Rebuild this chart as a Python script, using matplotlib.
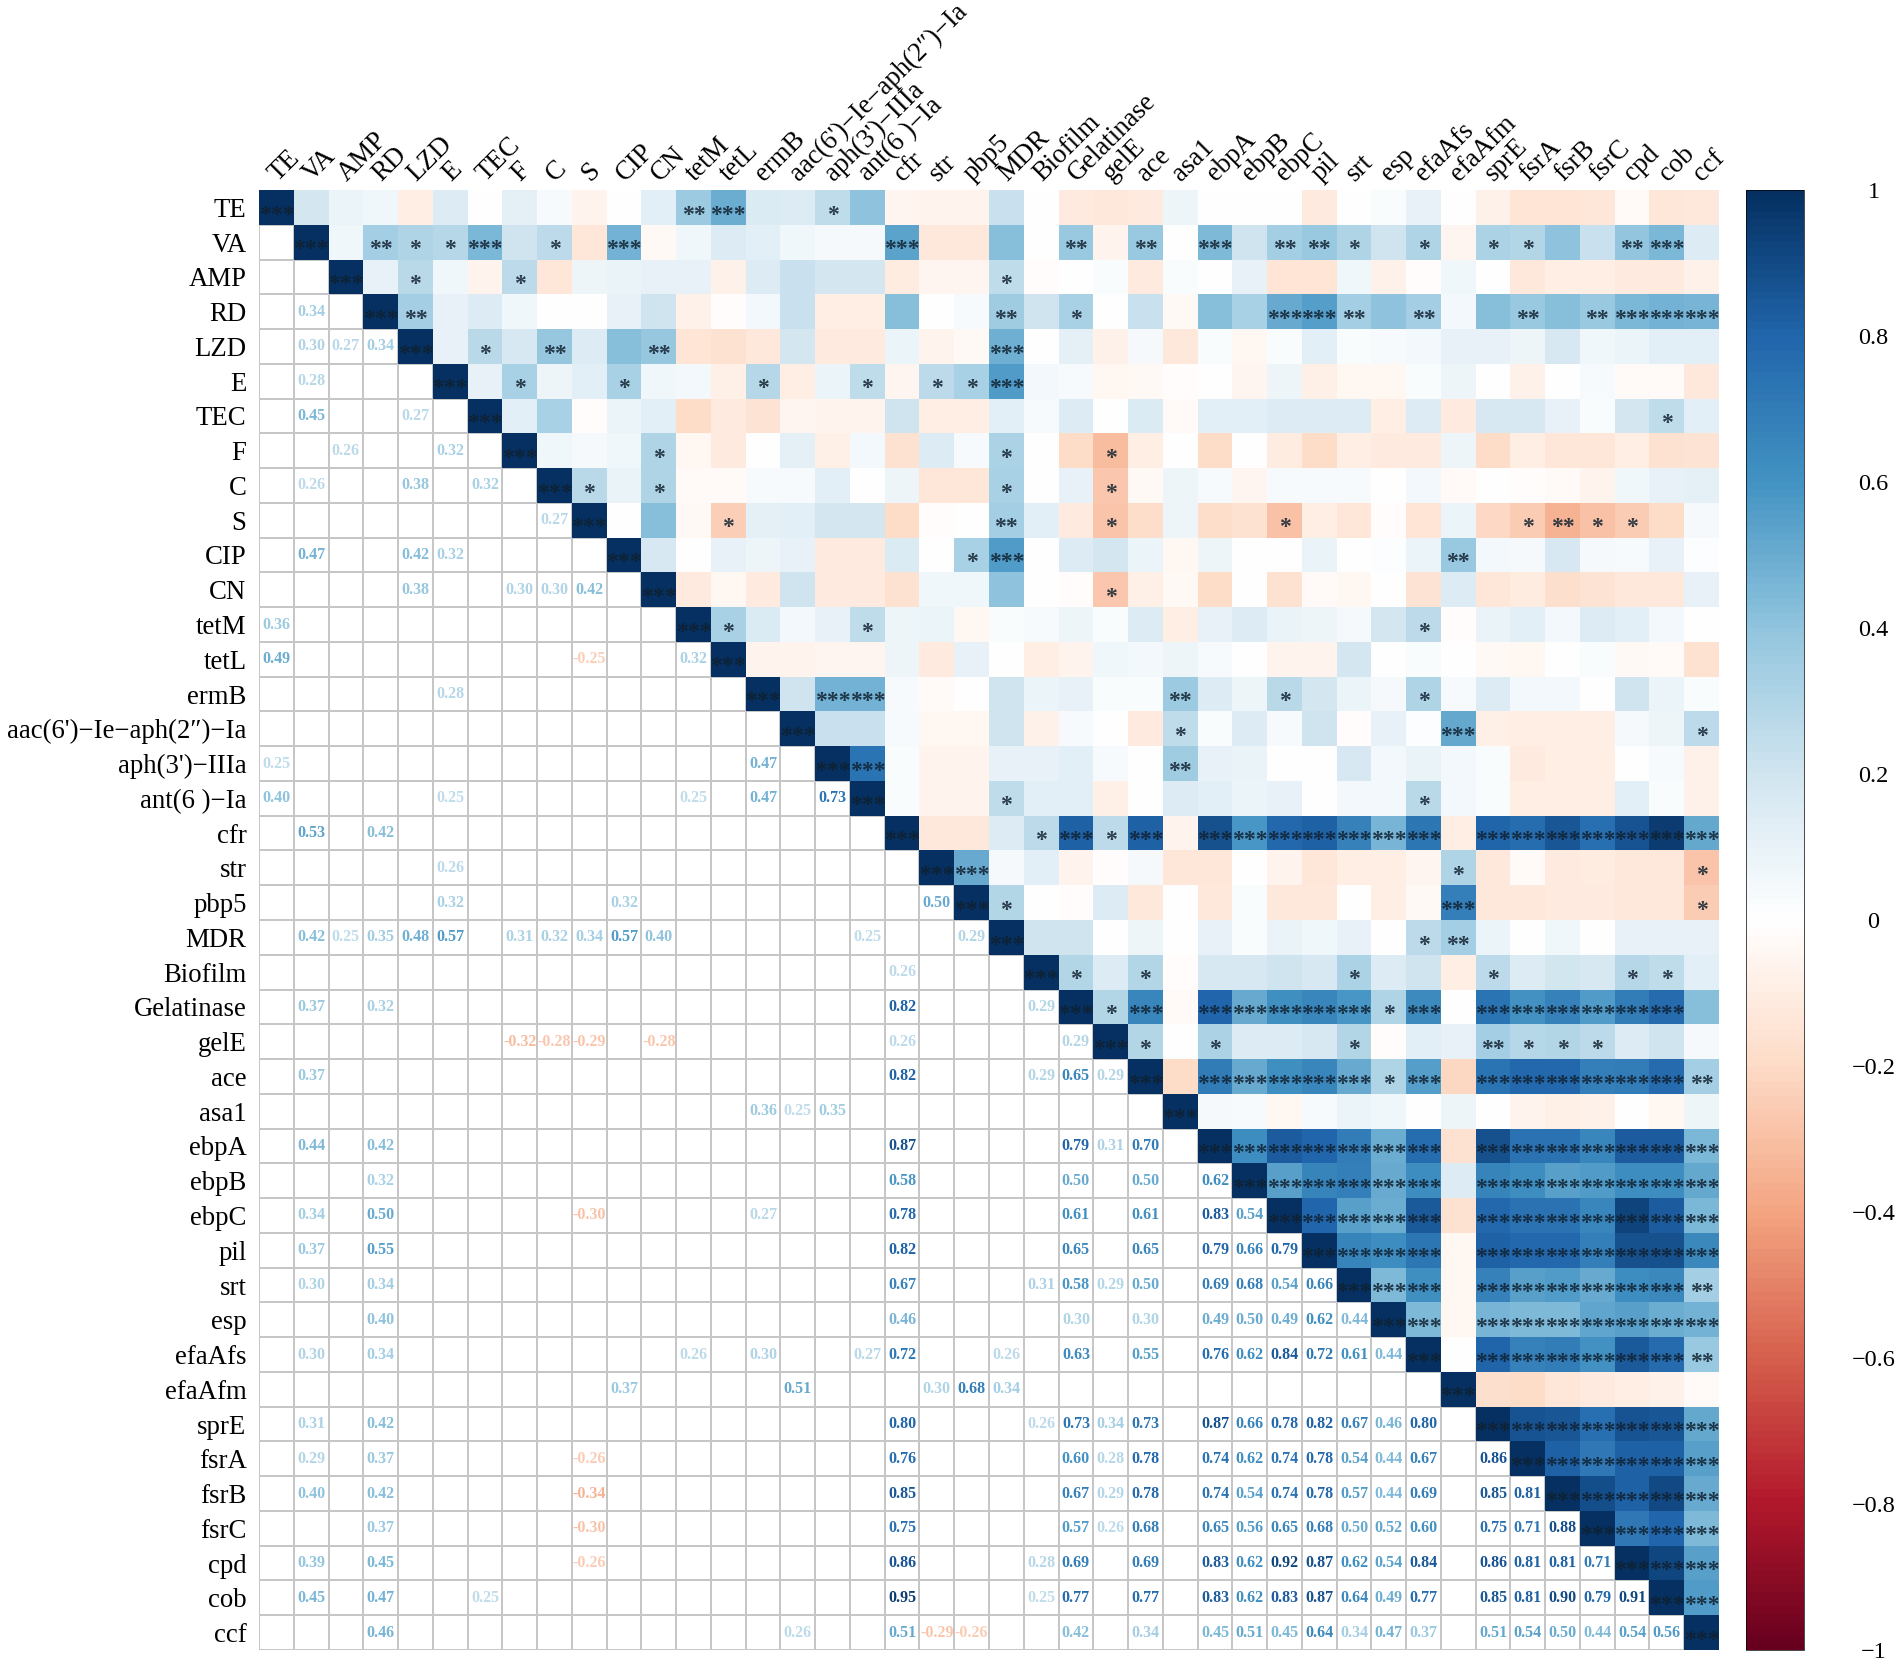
import numpy as np
import matplotlib
matplotlib.use('Agg')
import matplotlib.pyplot as plt
from matplotlib.colors import ListedColormap, LinearSegmentedColormap
from matplotlib.transforms import ScaledTranslation

plt.rcParams['font.family'] = ['Liberation Serif', 'DejaVu Serif']

names = ['TE', 'VA', 'AMP', 'RD', 'LZD', 'E', 'TEC', 'F', 'C', 'S', 'CIP', 'CN', 'tetM', 'tetL', 'ermB',
         'aac(6\')\u2212Ie\u2212aph(2\u2033)\u2212Ia', 'aph(3\')\u2212IIIa', 'ant(6 )\u2212Ia', 'cfr', 'str', 'pbp5',
         'MDR', 'Biofilm', 'Gelatinase', 'gelE', 'ace', 'asa1', 'ebpA', 'ebpB', 'ebpC', 'pil', 'srt', 'esp',
         'efaAfs', 'efaAfm', 'sprE', 'fsrA', 'fsrB', 'fsrC', 'cpd', 'cob', 'ccf']

# upper triangle, each row starts right of the diagonal
upper = [
    [.18, .08, .06, -.1, .15, 0, .11, .03, -.07, 0, .12, .36, .49, .16, .15, .25, .40, -.06, -.07, -.07, .22, 0, -.12, -.13, -.12, .07, 0, 0, 0, -.12, 0, .02, .1, 0, -.08, -.15, -.15, -.14, -.03, -.14, -.13],
    [.06, .34, .30, .28, .45, .2, .26, -.14, .47, -.04, .06, .14, .13, .06, .04, .04, .53, -.13, -.13, .42, 0, .37, -.07, .37, 0, .44, .2, .34, .37, .30, .2, .30, -.06, .31, .29, .40, .22, .39, .45, .14],
    [.1, .27, .06, -.07, .26, -.14, .07, .09, .1, .1, -.08, .14, .22, .18, .18, -.11, -.06, -.06, .25, -.02, 0, .02, -.12, .02, 0, .1, -.15, -.15, .06, -.08, -.02, .06, 0, -.13, -.1, -.1, -.12, -.12, -.08],
    [.34, .1, .14, .06, 0, 0, .1, .2, -.08, -.02, .05, .22, -.1, -.1, .42, 0, .03, .35, .2, .32, 0, .22, -.04, .42, .32, .50, .55, .34, .40, .34, .05, .42, .37, .42, .37, .45, .47, .46],
    [.1, .27, .17, .38, .15, .42, .38, -.15, -.17, -.13, .18, -.12, -.12, .08, -.07, -.04, .48, 0, .11, -.08, .04, -.13, .02, -.05, .02, .12, .02, .03, .05, .1, .1, .07, .17, .06, .08, .13, .13],
    [.1, .32, .07, .12, .32, .06, .05, -.09, .28, -.1, .08, .25, -.06, .26, .32, .57, .05, .03, -.05, -.04, -.02, 0, -.06, .07, -.09, -.05, -.05, .02, .07, 0, -.08, 0, .03, -.03, -.03, -.13],
    [.12, .32, -.02, .08, .12, -.2, -.12, -.16, -.06, -.07, -.07, .2, -.1, -.1, .13, .03, .14, 0, .16, -.03, .13, .13, .15, .15, .15, -.1, .14, -.12, .17, .17, .1, .02, .18, .25, .13],
    [.06, .04, .06, .30, -.05, -.12, 0, .11, -.09, .05, -.17, .15, .03, .31, 0, -.2, -.32, -.1, 0, -.2, 0, -.11, -.2, -.1, -.12, -.12, .07, -.2, -.1, -.14, -.14, -.1, -.17, -.16],
    [.27, .09, .30, -.03, -.03, .03, .03, .13, 0, .07, -.14, -.14, .32, 0, .1, -.28, -.04, .07, .03, -.06, .03, .03, .03, -.01, .05, -.03, -.01, -.02, -.03, -.07, .06, .1, .11],
    [0, .42, -.04, -.25, .11, .12, .18, .18, -.2, -.02, -.01, .34, .12, -.12, -.29, -.19, .07, -.19, -.17, -.3, -.1, -.14, -.02, -.15, .08, -.21, -.26, -.34, -.3, -.26, -.2, .04],
    [.17, 0, .1, .07, .1, -.12, -.12, .16, 0, .32, .57, 0, .14, .18, .08, -.05, .07, 0, 0, .09, 0, .01, .08, .37, .05, .04, .17, .04, .03, .1, .01],
    [-.12, -.05, -.12, .2, -.12, -.12, -.17, .06, .06, .40, 0, -.02, -.28, -.09, -.04, -.2, 0, -.17, -.03, -.05, -.01, -.16, .14, -.14, -.11, -.18, -.16, -.13, -.13, .1],
    [.32, .16, .05, .1, .25, .07, .08, -.05, .02, .03, .07, .02, .15, -.1, .1, .15, .09, .07, .04, .18, .26, -.02, .09, .12, .05, .15, .12, .05, 0],
    [-.07, -.07, -.06, -.06, .07, -.12, .1, 0, -.1, -.07, .06, .05, .07, .03, 0, -.07, -.07, .18, 0, .02, 0, -.04, -.05, 0, .02, -.04, -.03, -.17],
    [.2, .47, .47, .03, -.03, 0, .2, .08, .1, .02, .02, .36, .15, .07, .27, .18, .08, .04, .30, .03, .15, .05, .05, 0, .2, .08, .02],
    [.22, .22, .03, -.05, -.05, .2, -.08, .03, 0, -.12, .25, .02, .15, .03, .2, -.02, .1, .01, .51, -.09, -.1, -.1, -.1, .04, .07, .26],
    [.73, .02, -.07, -.07, .1, .1, .13, .03, 0, .35, .1, .09, 0, 0, .17, .05, .09, .05, .02, -.12, -.1, -.1, 0, .03, -.08],
    [.02, -.07, -.07, .25, .12, .13, -.09, 0, .14, .12, .08, .1, 0, .05, .05, .27, .05, .02, -.1, -.1, -.1, .13, .02, -.08],
    [-.13, -.13, .14, .26, .82, .26, .82, -.07, .87, .58, .78, .82, .67, .46, .72, -.1, .80, .76, .85, .75, .86, .95, .51],
    [.50, .04, .13, -.07, -.02, .04, -.14, -.14, 0, -.07, -.14, -.1, -.1, -.06, .30, -.13, -.03, -.12, -.11, -.13, -.13, -.29],
    [.29, 0, -.02, .15, -.13, 0, -.13, .02, -.13, -.13, 0, -.1, -.04, .68, -.13, -.13, -.12, -.12, -.13, -.13, -.26],
    [.2, .2, -.01, .07, -.01, .1, .02, .09, .06, .1, 0, .26, .34, .08, -.01, .06, 0, .1, .1, .1],
    [.29, .14, .29, -.02, .17, .17, .2, .17, .31, .15, .2, -.1, .26, .14, .19, .17, .28, .25, .12],
    [.29, .65, -.03, .79, .50, .61, .65, .58, .30, .63, 0, .73, .60, .67, .57, .69, .77, .42],
    [.29, 0, .31, .14, .14, .17, .29, -.02, .13, .1, .34, .28, .29, .26, .14, .2, .04],
    [-.2, .70, .50, .61, .65, .50, .30, .55, -.22, .73, .78, .78, .68, .69, .77, .34],
    [.04, .03, -.05, .03, .08, .06, 0, .07, 0, -.07, -.09, -.08, 0, -.05, .07],
    [.62, .83, .79, .69, .49, .76, -.17, .87, .74, .74, .65, .83, .83, .45],
    [.54, .66, .68, .50, .62, .14, .66, .62, .54, .56, .62, .62, .51],
    [.79, .54, .49, .84, -.17, .78, .74, .74, .65, .92, .83, .45],
    [.66, .62, .72, -.05, .82, .78, .78, .68, .87, .87, .64],
    [.44, .61, -.05, .67, .54, .57, .50, .62, .64, .34],
    [.44, -.05, .46, .44, .44, .52, .54, .49, .47],
    [0, .80, .67, .69, .60, .84, .77, .37],
    [-.18, -.2, -.14, -.12, -.1, -.08, -.03],
    [.86, .85, .75, .86, .85, .51],
    [.81, .71, .81, .81, .54],
    [.88, .81, .90, .50],
    [.71, .79, .44],
    [.91, .54],
    [.56],
]

# significance stars in the upper triangle: row -> columns
one_star = {0: [16], 1: [4, 5, 8, 31, 33, 35, 36], 2: [4, 7, 21], 3: [23], 4: [6], 5: [7, 10, 14, 17, 19, 20],
            6: [40], 7: [11, 21, 24], 8: [9, 11, 21, 24], 9: [13, 24, 29, 36, 38, 39], 10: [20], 11: [24],
            12: [13, 17, 33], 14: [29, 33], 15: [26, 41], 17: [21, 33], 18: [22, 24], 19: [34, 41], 20: [21, 41],
            21: [33], 22: [23, 25, 31, 35, 39, 40], 23: [24, 32], 24: [25, 27, 31, 36, 37, 38], 25: [32]}
two_stars = {0: [12], 1: [3, 23, 25, 29, 30, 39], 3: [4, 21, 31, 33, 36, 38], 4: [8, 11], 9: [21, 37], 10: [34],
             14: [26], 16: [26], 21: [34], 24: [35], 25: [41], 31: [41], 33: [41]}
three_stars = {0: [13], 1: [6, 10, 18, 27, 40], 3: [29, 30, 39, 40, 41], 4: [21], 5: [21], 10: [21], 14: [16, 17],
               15: [34], 16: [17], 18: [23, 25, 27, 28, 29, 30, 31, 32, 33, 35, 36, 37, 38, 39, 40, 41],
               19: [20], 20: [34], 23: [25, 27, 28, 29, 30, 31, 33, 35, 36, 37, 38, 39, 40],
               25: [27, 28, 29, 30, 31, 33, 35, 36, 37, 38, 39, 40],
               27: [28, 29, 30, 31, 32, 33, 35, 36, 37, 38, 39, 40, 41],
               28: [29, 30, 31, 32, 33, 35, 36, 37, 38, 39, 40, 41],
               29: [30, 31, 32, 33, 35, 36, 37, 38, 39, 40, 41],
               30: [31, 32, 33, 35, 36, 37, 38, 39, 40, 41],
               31: [32, 33, 35, 36, 37, 38, 39, 40],
               32: [33, 35, 36, 37, 38, 39, 40, 41],
               33: [35, 36, 37, 38, 39, 40],
               35: [36, 37, 38, 39, 40, 41], 36: [37, 38, 39, 40, 41], 37: [38, 39, 40, 41],
               38: [39, 40, 41], 39: [40, 41], 40: [41]}

bar_ticks = [-1, -0.8, -0.6, -0.4, -0.2, 0, 0.2, 0.4, 0.6, 0.8, 1]
min_label = 0.25

n = len(names)
corr = np.eye(n)
for i in range(n - 1):
    corr[i, i + 1:] = upper[i]
    corr[i + 1:, i] = upper[i]

W, H = 1901, 1669
fig = plt.figure(figsize=(W / 100, H / 100), dpi=100)
ax = fig.add_axes([259 / W, 1 - 1650 / H, 1460 / W, 1460 / H])
# same stops as RdBu but with a white centre
cmap = LinearSegmentedColormap.from_list('rdbu_white', ['#67001F', '#B2182B', '#D6604D', '#F4A582', '#FDDBC7', '#FFFFFF',
                                                        '#D1E5F0', '#92C5DE', '#4393C3', '#2166AC', '#053061'], N=200)

edges = np.arange(n + 1)
low = np.ma.masked_where(np.triu(np.ones((n, n))) == 1, np.ones((n, n)))
ax.pcolormesh(edges, edges, low, cmap=ListedColormap(['white']), edgecolors='#c6c6c6', linewidth=1.3, zorder=1)
up = np.ma.masked_where(np.tril(np.ones((n, n)), -1) == 1, corr)
mesh = ax.pcolormesh(edges, edges, up, cmap=cmap, vmin=-1, vmax=1, zorder=2)

# numbers below the diagonal
for i in range(n):
    for j in range(i):
        v = corr[i, j]
        if abs(v) >= min_label:
            ax.text(j + 0.5, i + 0.5, '%.2f' % v, ha='center', va='center', fontsize=11.5, fontweight='bold',
                    color=cmap((v + 1) / 2), zorder=3)


def put_stars(row, col, count):
    ax.text(col + 0.5, row + 0.72, '*' * count, ha='center', va='center', fontsize=17, fontweight='bold',
            color='#10202f', alpha=0.85, zorder=4)


for row, cols in one_star.items():
    for col in cols:
        put_stars(row, col, 1)
for row, cols in two_stars.items():
    for col in cols:
        put_stars(row, col, 2)
for row, cols in three_stars.items():
    for col in cols:
        put_stars(row, col, 3)
for i in range(n):
    put_stars(i, i, 3)

ax.set_xlim(0, n)
ax.set_ylim(n, 0)
ax.set_xticks(edges[:-1] + 0.5)
ax.set_yticks(edges[:-1] + 0.5)
ax.xaxis.tick_top()
ax.set_xticklabels(names, rotation=45, ha='left', va='bottom', rotation_mode='anchor', fontsize=19.3)
ax.set_yticklabels(names, fontsize=19.3)
ax.tick_params(length=0, pad=9)
ax.tick_params(axis='x', pad=3)
# top labels sit a little right of the column centre
shift = ScaledTranslation(5 / 100, 0, fig.dpi_scale_trans)
for label in ax.get_xticklabels():
    label.set_transform(label.get_transform() + shift)
for s in ax.spines.values():
    s.set_visible(False)

cax = fig.add_axes([1746 / W, 1 - 1650 / H, 58 / W, 1460 / H])
cb = fig.colorbar(mesh, cax=cax)
cb.outline.set_linewidth(0.5)
cb.set_ticks(bar_ticks)
cb.set_ticklabels([('%g' % t).replace('-', '\u2212') for t in bar_ticks], fontsize=17.5, ha='center')
cb.ax.tick_params(length=0, pad=50)

fig.savefig('out.png', dpi=100)
